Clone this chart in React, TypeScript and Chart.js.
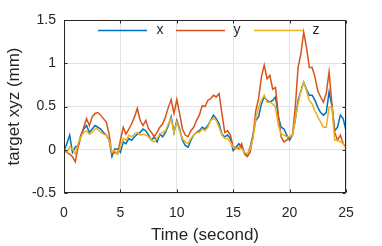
import React, { useEffect, useRef } from "react";
import { Chart, registerables } from "chart.js";

Chart.register(...registerables);

const times: number[] = Array.from({ length: 101 }, (_, i) => i * 0.25);

const seriesX: number[] = [
  -0.01, 0.07, 0.17, -0.03, 0.03, 0.05, 0.17, 0.24, 0.28, 0.2, 0.24, 0.28, 0.26, 0.24, 0.2, 0.17, 0.11,
  -0.08, 0.01, 0.01, -0.03, 0.09, 0.07, 0.13, 0.11, 0.15, 0.18, 0.2, 0.24, 0.22, 0.17, 0.11, 0.15,
  0.09, 0.18, 0.15, 0.2, 0.28, 0.38, 0.2, 0.34, 0.24, 0.11, 0.05, 0.03, 0.11, 0.17, 0.2, 0.22,
  0.26, 0.24, 0.28, 0.34, 0.4, 0.36, 0.3, 0.18, 0.15, 0.17, 0.13, -0.01, 0.03, 0.07, 0.03, -0.03,
  -0.07, 0.03, 0.17, 0.34, 0.38, 0.53, 0.61, 0.57, 0.55, 0.57, 0.61, 0.38, 0.26, 0.24, 0.17, 0.11,
  0.17, 0.34, 0.57, 0.68, 0.78, 0.7, 0.63, 0.63, 0.57, 0.49, 0.43, 0.4, 0.43, 0.67, 0.51, 0.22,
  0.26, 0.4, 0.36, 0.22,
];

const seriesY: number[] = [
  -0.01, -0.03, -0.05, -0.08, -0.14, 0.03, 0.15, 0.26, 0.36, 0.28, 0.38, 0.42, 0.43, 0.4, 0.36, 0.32, 0.18,
  -0.05, -0.03, -0.05, 0.11, 0.26, 0.18, 0.24, 0.3, 0.38, 0.48, 0.34, 0.28, 0.34, 0.24, 0.2, 0.15,
  0.2, 0.26, 0.3, 0.38, 0.49, 0.58, 0.42, 0.58, 0.42, 0.24, 0.17, 0.15, 0.22, 0.26, 0.34, 0.4,
  0.51, 0.5, 0.57, 0.59, 0.63, 0.61, 0.65, 0.42, 0.2, 0.22, 0.17, 0.03, 0.03, 0.01, 0.07, -0.05,
  -0.08, -0.03, 0.15, 0.45, 0.59, 0.84, 0.98, 0.82, 0.86, 0.7, 0.72, 0.4, 0.15, 0.09, 0.11, 0.15,
  0.17, 0.49, 0.95, 1.11, 1.36, 1.18, 0.95, 0.95, 0.84, 0.68, 0.61, 0.55, 0.65, 0.9, 0.53, 0.2,
  0.11, 0.17, 0.07, 0.03,
];

const seriesZ: number[] = [
  -0.03, -0.03, 0.03, 0.01, -0.05, 0.07, 0.15, 0.2, 0.22, 0.18, 0.2, 0.24, 0.24, 0.2, 0.18, 0.17, 0.11,
  -0.03, -0.01, -0.05, 0.03, 0.13, 0.11, 0.17, 0.15, 0.18, 0.2, 0.17, 0.18, 0.17, 0.15, 0.11, 0.09,
  0.13, 0.18, 0.2, 0.22, 0.3, 0.36, 0.2, 0.32, 0.22, 0.13, 0.09, 0.07, 0.13, 0.17, 0.2, 0.2,
  0.24, 0.22, 0.26, 0.34, 0.36, 0.34, 0.26, 0.17, 0.13, 0.13, 0.09, 0.03, 0.01, 0.03, 0.01, -0.03,
  -0.05, 0.01, 0.13, 0.36, 0.49, 0.57, 0.63, 0.55, 0.55, 0.53, 0.49, 0.28, 0.18, 0.17, 0.15, 0.15,
  0.17, 0.36, 0.53, 0.68, 0.78, 0.68, 0.57, 0.53, 0.45, 0.38, 0.32, 0.26, 0.26, 0.49, 0.49, 0.11,
  0.11, 0.09, 0.07, 0.03,
];

const seriesNames: string[] = ["x", "y", "z"];
const seriesColors: string[] = ["#0072BD", "#D95319", "#EDB120"];
const xTicks: number[] = [0, 5, 10, 15, 20, 25];
const yTicks: number[] = [-0.5, 0, 0.5, 1, 1.5];

const FONT = "'Liberation Sans', Arial, Helvetica, sans-serif";
const TEXT = "#262626";

const boxPlugin = {
  id: "matlabBox",
  afterDatasetsDraw(chart: any) {
    const { ctx, chartArea } = chart;
    const { left, right, top, bottom } = chartArea;
    ctx.save();
    // legend
    const ly = top + 10.5;
    const items = [
      { x0: left + 34, x1: left + 83, tx: left + 96 },
      { x0: left + 112, x1: left + 161, tx: left + 173 },
      { x0: left + 190, x1: left + 239, tx: left + 252 },
    ];
    items.forEach((it, i) => {
      ctx.strokeStyle = seriesColors[i];
      ctx.lineWidth = 1.5;
      ctx.beginPath();
      ctx.moveTo(it.x0, ly);
      ctx.lineTo(it.x1, ly);
      ctx.stroke();
      ctx.fillStyle = TEXT;
      ctx.font = `14px ${FONT}`;
      ctx.textAlign = "center";
      ctx.textBaseline = "middle";
      ctx.fillText(seriesNames[i], it.tx, ly);
    });
    // box
    ctx.strokeStyle = TEXT;
    ctx.lineWidth = 1;
    const L = Math.round(left) + 0.5;
    const R = Math.round(right) - 0.5;
    const T = Math.round(top) + 0.5;
    const B = Math.round(bottom) - 0.5;
    ctx.strokeRect(L, T, R - L, B - T);
    // inward ticks
    const xs = chart.scales.x;
    const ys = chart.scales.y;
    const tl = 3;
    ctx.beginPath();
    xTicks.forEach((v) => {
      const px = Math.round(xs.getPixelForValue(v)) + 0.5;
      ctx.moveTo(px, B);
      ctx.lineTo(px, B - tl);
      ctx.moveTo(px, T);
      ctx.lineTo(px, T + tl);
    });
    yTicks.forEach((v) => {
      const py = Math.round(ys.getPixelForValue(v)) + 0.5;
      ctx.moveTo(L, py);
      ctx.lineTo(L + tl, py);
      ctx.moveTo(R, py);
      ctx.lineTo(R - tl, py);
    });
    ctx.stroke();
    ctx.restore();
  },
};

export default function App() {
  const ref = useRef<HTMLCanvasElement | null>(null);

  useEffect(() => {
    document.body.style.margin = "0";
    const canvas = ref.current;
    if (!canvas) return;
    const mk = (vals: number[]) => vals.map((v, i) => ({ x: times[i], y: v }));
    const chart = new Chart(canvas, {
      type: "line",
      data: {
        datasets: [seriesX, seriesY, seriesZ].map((vals, i) => ({
          label: seriesNames[i],
          data: mk(vals),
          borderColor: seriesColors[i],
          backgroundColor: seriesColors[i],
          borderWidth: 1.5,
          pointRadius: 0,
          tension: 0,
          fill: false,
          order: 2 - i,
        })),
      },
      options: {
        animation: false,
        responsive: false,
        maintainAspectRatio: false,
        devicePixelRatio: 1,
        layout: { padding: { left: 0, right: 36, top: 20, bottom: 0 } },
        plugins: {
          legend: { display: false },
          tooltip: { enabled: false },
        },
        scales: {
          x: {
            type: "linear",
            min: 0,
            max: 25,
            afterBuildTicks: (s: any) => {
              s.ticks = xTicks.map((v) => ({ value: v }));
            },
            afterFit: (s: any) => {
              s.height = 53;
            },
            grid: { color: "#e3e3e3", drawTicks: false, lineWidth: 1 },
            border: { display: false },
            ticks: {
              padding: 12,
              color: TEXT,
              font: { family: FONT, size: 14 },
              callback: (v: any) => String(v),
              maxRotation: 0,
            },
            title: {
              display: true,
              text: "Time (second)",
              color: TEXT,
              font: { family: FONT, size: 17 },
              padding: { top: 0, bottom: 0 },
            },
          },
          y: {
            type: "linear",
            min: -0.5,
            max: 1.5,
            afterBuildTicks: (s: any) => {
              s.ticks = yTicks.map((v) => ({ value: v }));
            },
            afterFit: (s: any) => {
              s.width = 64;
            },
            grid: { color: "#e3e3e3", drawTicks: false, lineWidth: 1 },
            border: { display: false },
            ticks: {
              padding: 8,
              color: TEXT,
              font: { family: FONT, size: 14 },
              callback: (v: any) => String(v),
            },
            title: {
              display: true,
              text: "target xyz (mm)",
              color: TEXT,
              font: { family: FONT, size: 17 },
              padding: { top: 4, bottom: 0 },
            },
          },
        },
      },
      plugins: [boxPlugin],
    });
    return () => chart.destroy();
  }, []);

  return (
    <div style={{ position: "absolute", left: 0, top: 0, width: 382, height: 246, background: "#fff" }}>
      <canvas ref={ref} width={382} height={246} style={{ width: 382, height: 246 }} />
    </div>
  );
}
